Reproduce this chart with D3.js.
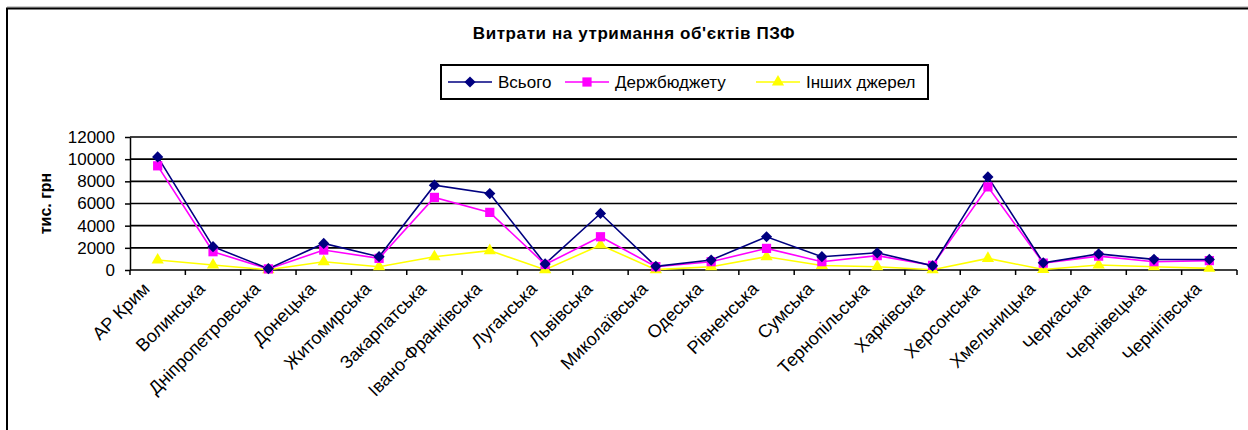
<!DOCTYPE html>
<html>
<head>
<meta charset="utf-8">
<script src="https://cdn.jsdelivr.net/npm/d3@7"></script>
<style>
  body { margin: 0; background: #fff; }
  text { font-family: "Liberation Sans", Arial, sans-serif; }
</style>
</head>
<body>
<div id="container"></div>
<script>
/* CONSTANTS AND GLOBALS */
const width = 1248;
const height = 430;

const margin = { top: 137, right: 11, bottom: 160, left: 130 };

/* DATA */
const regions = ["АР Крим", "Волинська", "Дніпропетровська", "Донецька", "Житомирська",
  "Закарпатська", "Івано-Франківська", "Луганська", "Львівська", "Миколаївська",
  "Одеська", "Рівненська", "Сумська", "Тернопільська", "Харківська",
  "Херсонська", "Хмельницька", "Черкаська", "Чернівецька", "Чернігівська"];

const total  = [10200, 2100, 120, 2400, 1200, 7650, 6900, 550, 5100, 330,
                900, 3000, 1200, 1550, 380, 8400, 650, 1450, 960, 950];
const budget = [9400, 1650, 100, 1800, 1050, 6550, 5200, 500, 3000, 300,
                750, 1950, 750, 1300, 420, 7500, 620, 1250, 750, 850];
const other  = [900, 450, 20, 750, 300, 1200, 1750, 30, 2250, 30,
                300, 1200, 400, 300, 20, 1050, 40, 450, 300, 150];

const yTicks = [0, 2000, 4000, 6000, 8000, 10000, 12000];

const series = [
  { name: "Всього", values: total, color: "#000080", symbol: d3.symbolDiamond2, size: 80 },
  { name: "Держбюджету", values: budget, color: "#FF00FF", symbol: d3.symbolSquare, size: 85 },
  { name: "Інших джерел", values: other, color: "#FFFF00", symbol: d3.symbolTriangle, size: 65 }
];

// CREATE SVG ELEMENT
const svg = d3.select("#container")
  .append("svg")
  .attr("width", width)
  .attr("height", height);

// frame of the chart area (top + left edges visible)
svg.append("line").attr("x1", 7).attr("x2", width).attr("y1", 7).attr("y2", 7)
  .attr("stroke", "#999").attr("stroke-width", 1);
svg.append("path")
  .attr("d", `M7,${height}V8.5H${width}`)
  .attr("fill", "none").attr("stroke", "#000").attr("stroke-width", 2);

// + SCALES
const xScale = d3.scaleBand()
  .domain(regions)
  .range([margin.left, width - margin.right]);

const yScale = d3.scaleLinear()
  .domain([0, 12000])
  .range([height - margin.bottom, margin.top]);

// GRIDLINES
svg.append("g")
  .selectAll("line")
  .data(yTicks.filter(d => d > 0))
  .join("line")
  .attr("x1", margin.left)
  .attr("x2", width - margin.right)
  .attr("y1", d => yScale(d))
  .attr("y2", d => yScale(d))
  .attr("stroke", "#000")
  .attr("stroke-width", 1.6);

// BUILD AND CALL AXES
const yAxis = d3.axisLeft(yScale)
  .tickValues(yTicks)
  .tickSize(5)
  .tickSizeOuter(0)
  .tickFormat(d3.format("d"));

const yAxisGroup = svg.append("g")
  .attr("transform", `translate(${margin.left}, 0)`)
  .call(yAxis);
yAxisGroup.select(".domain").attr("stroke", "#000").attr("stroke-width", 1.5);
yAxisGroup.selectAll(".tick line").attr("stroke", "#000").attr("stroke-width", 1.5);
yAxisGroup.selectAll(".tick text")
  .attr("x", -15)
  .attr("font-size", 17)
  .attr("font-family", "Liberation Sans, Arial, sans-serif")
  .attr("fill", "#000");

svg.append("text")
  .attr("transform", `translate(51, ${yScale(6000)}) rotate(-90)`)
  .attr("text-anchor", "middle")
  .attr("font-size", 16)
  .attr("font-weight", "bold")
  .text("тис. грн");

// x axis: line + ticks at category boundaries
const xAxisGroup = svg.append("g");
xAxisGroup.append("line")
  .attr("x1", margin.left).attr("x2", width - margin.right)
  .attr("y1", yScale(0)).attr("y2", yScale(0))
  .attr("stroke", "#000").attr("stroke-width", 1.5);
const bounds = regions.map(r => xScale(r)).concat([xScale.range()[1]]);
xAxisGroup.selectAll(".xtick")
  .data(bounds)
  .join("line")
  .attr("class", "xtick")
  .attr("x1", d => d).attr("x2", d => d)
  .attr("y1", yScale(0)).attr("y2", yScale(0) + 5)
  .attr("stroke", "#000").attr("stroke-width", 1.5);

xAxisGroup.selectAll(".xlabel")
  .data(regions)
  .join("text")
  .attr("class", "xlabel")
  .attr("text-anchor", "end")
  .attr("font-size", 18)
  .attr("transform", d => `translate(${xScale(d) + xScale.bandwidth() / 2 - 7}, ${yScale(0) + 20}) rotate(-45)`)
  .text(d => d);

// LINE GENERATOR FUNCTION
const lineGen = d3.line()
  .x((d, i) => xScale(regions[i]) + xScale.bandwidth() / 2)
  .y(d => yScale(d));

// DRAW LINES (draw in reverse so "Всього" is on top)
series.slice().reverse().forEach(s => {
  svg.append("path")
    .datum(s.values)
    .attr("fill", "none")
    .attr("stroke", s.color)
    .attr("stroke-width", 1.6)
    .attr("d", lineGen);
});
series.slice().reverse().forEach(s => {
  svg.append("g")
    .selectAll("path")
    .data(s.values)
    .join("path")
    .attr("transform", (d, i) => `translate(${xScale(regions[i]) + xScale.bandwidth() / 2}, ${yScale(d)})`)
    .attr("d", d3.symbol(s.symbol, s.size))
    .attr("fill", s.color);
});

// TITLE
svg.append("text")
  .attr("x", 634)
  .attr("y", 39)
  .attr("text-anchor", "middle")
  .attr("font-size", 17)
  .attr("letter-spacing", 0.6)
  .attr("font-weight", "bold")
  .text("Витрати на утримання об'єктів ПЗФ");

// LEGEND
const legend = svg.append("g");
legend.append("rect")
  .attr("x", 441).attr("y", 65)
  .attr("width", 487).attr("height", 34)
  .attr("fill", "#fff")
  .attr("stroke", "#000").attr("stroke-width", 2);

const legendX = [448, 565, 756];
series.forEach((s, i) => {
  const g = legend.append("g").attr("transform", `translate(${legendX[i]}, 82)`);
  g.append("line").attr("x1", 0).attr("x2", 44).attr("stroke", s.color).attr("stroke-width", 1.6);
  g.append("path").attr("transform", "translate(22,0)").attr("d", d3.symbol(s.symbol, s.size)).attr("fill", s.color);
  g.append("text").attr("x", 50).attr("y", 6).attr("font-size", 17).text(s.name);
});
</script>
</body>
</html>
